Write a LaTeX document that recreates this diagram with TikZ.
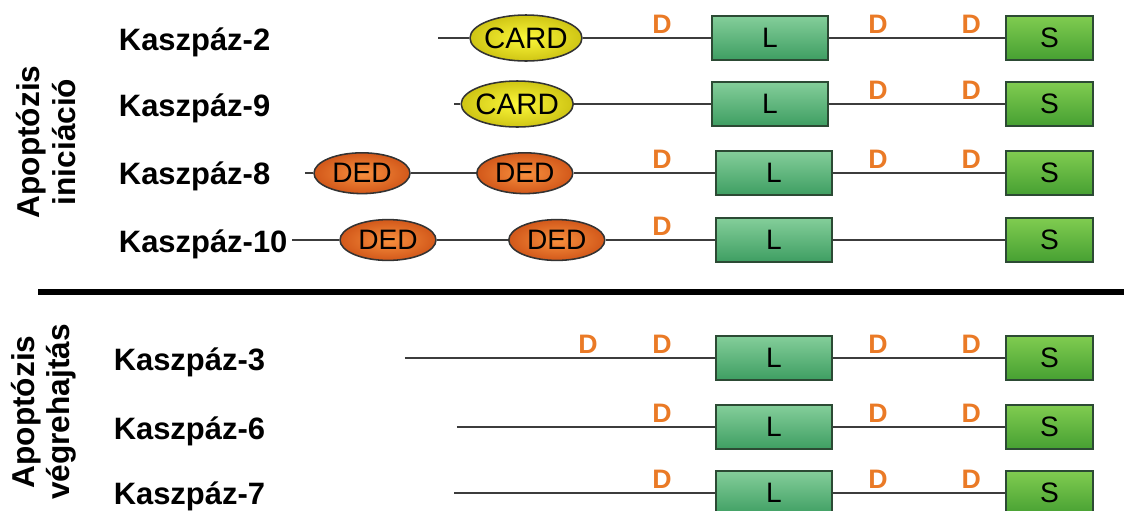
\documentclass[tikz,border=0pt]{standalone}
\usepackage{fontspec}
\setmainfont{Liberation Sans}
\usepackage{tikz}
\usetikzlibrary{shapes.geometric}

\definecolor{bline}{HTML}{3C3C3C}
\definecolor{dorange}{HTML}{EA7A26}
\definecolor{lgreenA}{HTML}{84CE9A}
\definecolor{lgreenB}{HTML}{3E9E62}
\definecolor{sgreenA}{HTML}{80CC50}
\definecolor{sgreenB}{HTML}{46A032}
\definecolor{boxedge}{HTML}{2C4A34}
\definecolor{cardA}{HTML}{FCF83A}
\definecolor{cardB}{HTML}{CFC514}
\definecolor{dedA}{HTML}{F8903E}
\definecolor{dedB}{HTML}{D2581A}

\begin{document}
\begin{tikzpicture}[
    casp/.style={anchor=west, font=\fontsize{22}{26}\selectfont\bfseries},
    grp/.style={rotate=90, align=center, font=\fontsize{22.5}{25}\selectfont\bfseries},
    lbox/.style={draw=boxedge, line width=1.1pt, top color=lgreenA, bottom color=lgreenB,
                 minimum width=2.9cm, minimum height=1.1cm, font=\fontsize{20}{20}\selectfont},
    sbox/.style={draw=boxedge, line width=1.1pt, top color=sgreenA, bottom color=sgreenB,
                 minimum width=2.175cm, minimum height=1.1cm, font=\fontsize{20}{20}\selectfont},
    card/.style={ellipse, draw=black!80, line width=1.1pt, inner color=cardA, outer color=cardB,
                 inner sep=-6pt, minimum width=2.8cm, minimum height=1.15cm,
                 font=\fontsize{21}{21}\selectfont},
    ded/.style={ellipse, draw=black!80, line width=1.1pt, inner color=dedA, outer color=dedB,
                inner sep=-6pt, minimum width=2.4cm, minimum height=1.02cm,
                font=\fontsize{20}{20}\selectfont},
    dsite/.style={text=dorange, font=\fontsize{19}{19}\selectfont\bfseries},
    bb/.style={draw=bline, line width=1.4pt}
]
    \useasboundingbox (0,0) rectangle (28.1,-12.75);

    % groups
    \node[grp] (init) at (1.15,-3.55) {Apoptózis\\iniciáció};
    \node[grp] (exec) at (1.1,-10.3) {Apoptózis\\végrehajtás};
    \draw[line width=3.8pt] (0.95,-7.3) coordinate (rulea) to (28.1,-7.3) coordinate (ruleb);

    % Kaszpaz-2
    \node[casp] (k2) at (2.85,-1.05) {Kaszpáz-2};
    \coordinate (k2a) at (10.95,-0.95);
    \node[card] (k2card) at (13.15,-0.95) {CARD};
    \node[lbox] (k2l) at (19.25,-0.95) {L};
    \node[sbox] (k2s) at (26.24,-0.95) {S};
    \node[dsite] (k2d1) at (16.55,-0.6) {D};
    \node[dsite] (k2d2) at (21.95,-0.6) {D};
    \node[dsite] (k2d3) at (24.28,-0.6) {D};

    % Kaszpaz-9
    \node[casp] (k9) at (2.85,-2.7) {Kaszpáz-9};
    \node[card] (k9card) at (12.93,-2.6) {CARD};
    \coordinate (k9a) at ([xshift=-0.15cm]k9card.west);
    \node[lbox] (k9l) at (19.25,-2.6) {L};
    \node[sbox] (k9s) at (26.24,-2.6) {S};
    \node[dsite] (k9d2) at (21.95,-2.25) {D};
    \node[dsite] (k9d3) at (24.28,-2.25) {D};

    % Kaszpaz-8
    \node[casp] (k8) at (2.85,-4.42) {Kaszpáz-8};
    \coordinate (k8a) at (7.62,-4.33);
    \node[ded] (k8ded1) at (9.05,-4.33) {DED};
    \node[ded] (k8ded2) at (13.12,-4.33) {DED};
    \node[lbox] (k8l) at (19.35,-4.33) {L};
    \node[sbox] (k8s) at (26.24,-4.33) {S};
    \node[dsite] (k8d1) at (16.55,-3.98) {D};
    \node[dsite] (k8d2) at (21.95,-3.98) {D};
    \node[dsite] (k8d3) at (24.28,-3.98) {D};

    % Kaszpaz-10
    \node[casp] (k10) at (2.85,-6.1) {Kaszpáz-10};
    \coordinate (k10a) at (7.3,-6.0);
    \node[ded] (k10ded1) at (9.7,-6.0) {DED};
    \node[ded] (k10ded2) at (13.92,-6.0) {DED};
    \node[lbox] (k10l) at (19.35,-6.0) {L};
    \node[sbox] (k10s) at (26.24,-6.0) {S};
    \node[dsite] (k10d1) at (16.55,-5.65) {D};

    % Kaszpaz-3
    \node[casp] (k3) at (2.72,-9.05) {Kaszpáz-3};
    \coordinate (k3a) at (10.12,-8.95);
    \node[lbox] (k3l) at (19.35,-8.95) {L};
    \node[sbox] (k3s) at (26.24,-8.95) {S};
    \node[dsite] (k3d0) at (14.7,-8.6) {D};
    \node[dsite] (k3d1) at (16.55,-8.6) {D};
    \node[dsite] (k3d2) at (21.95,-8.6) {D};
    \node[dsite] (k3d3) at (24.28,-8.6) {D};

    % Kaszpaz-6
    \node[casp] (k6) at (2.72,-10.78) {Kaszpáz-6};
    \coordinate (k6a) at (11.42,-10.68);
    \node[lbox] (k6l) at (19.35,-10.68) {L};
    \node[sbox] (k6s) at (26.24,-10.68) {S};
    \node[dsite] (k6d1) at (16.55,-10.33) {D};
    \node[dsite] (k6d2) at (21.95,-10.33) {D};
    \node[dsite] (k6d3) at (24.28,-10.33) {D};

    % Kaszpaz-7
    \node[casp] (k7) at (2.72,-12.42) {Kaszpáz-7};
    \coordinate (k7a) at (11.35,-12.33);
    \node[lbox] (k7l) at (19.35,-12.33) {L};
    \node[sbox] (k7s) at (26.24,-12.33) {S};
    \node[dsite] (k7d1) at (16.55,-11.98) {D};
    \node[dsite] (k7d2) at (21.95,-11.98) {D};
    \node[dsite] (k7d3) at (24.28,-11.98) {D};

    %edges
    \draw[bb] (k2a) to (k2card) to (k2l) to (k2s);
    \draw[bb] (k9a) to (k9card) to (k9l) to (k9s);
    \draw[bb] (k8a) to (k8ded1) to (k8ded2) to (k8l) to (k8s);
    \draw[bb] (k10a) to (k10ded1) to (k10ded2) to (k10l) to (k10s);
    \draw[bb] (k3a) to (k3l) to (k3s);
    \draw[bb] (k6a) to (k6l) to (k6s);
    \draw[bb] (k7a) to (k7l) to (k7s);
\end{tikzpicture}
\end{document}
